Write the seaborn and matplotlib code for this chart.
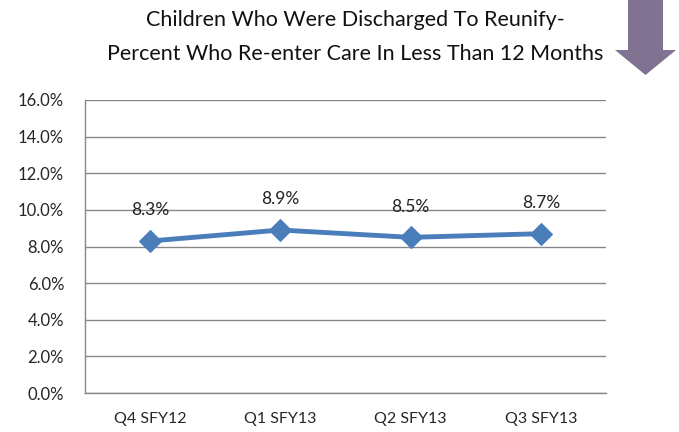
import matplotlib
matplotlib.use("Agg")
import matplotlib.pyplot as plt
import seaborn as sns
import pandas as pd
from matplotlib.patches import Polygon

quarters = ["Q4 SFY12", "Q1 SFY13", "Q2 SFY13", "Q3 SFY13"]
values = [8.3, 8.9, 8.5, 8.7]
yticks = [0, 2, 4, 6, 8, 10, 12, 14, 16]
title_lines = ["Children Who Were Discharged To Reunify-",
               "Percent Who Re-enter Care In Less Than 12 Months"]

sns.set_theme(style="white")
plt.rcParams['font.family'] = ['Lato', 'DejaVu Sans']

df = pd.DataFrame({"quarter": quarters, "value": values})

fig = plt.figure(figsize=(6.79, 4.32), dpi=100)
ax = fig.add_axes([85/679, 1 - 393/432, (606-85)/679, (393-100)/432])

xpos = list(range(len(quarters)))
df["x"] = xpos
sns.lineplot(data=df, x="x", y="value", ax=ax, color="#4A7EBB", linewidth=3.5,
             marker="D", markersize=11, markeredgecolor="#4A7EBB", legend=False)

ax.set_xlim(-0.5, len(quarters) - 0.5)
ax.set_ylim(0, 16)
ax.set_yticks(yticks)
ax.set_yticklabels([f"{t:.1f}%" for t in yticks], fontsize=12)
ax.set_xticks(xpos)
ax.set_xticklabels(quarters, fontsize=11.5)
ax.tick_params(axis='x', pad=14, length=0)
ax.tick_params(axis='y', pad=15, length=0)
ax.set_xlabel("")
ax.set_ylabel("")
ax.yaxis.grid(True, color="#878787", linewidth=1)
ax.xaxis.grid(False)
for s in ["top", "right"]:
    ax.spines[s].set_visible(False)
for s in ["left", "bottom"]:
    ax.spines[s].set_color("#878787")
    ax.spines[s].set_linewidth(1)

for x, v in zip(xpos, values):
    ax.annotate(f"{v}%", (x, v), xytext=(0, 22), textcoords="offset points",
                ha="center", va="center", fontsize=12.5, color="#222222")

fig.text(355/679, 1 - 20/432, title_lines[0], ha="center", va="center", fontsize=15.5, color="#111111")
fig.text(355/679, 1 - 54/432, title_lines[1], ha="center", va="center", fontsize=15.5, color="#111111")

# arrow
W, H = 679, 432
pts = [(628, 0), (663, 0), (663, 50), (676, 50), (645.5, 75), (615, 50), (628, 50)]
poly = Polygon([(x / W, 1 - y / H) for x, y in pts], closed=True,
               transform=fig.transFigure, facecolor="#7F7391", edgecolor="none")
fig.patches.append(poly)

fig.savefig("out.png", dpi=100)
